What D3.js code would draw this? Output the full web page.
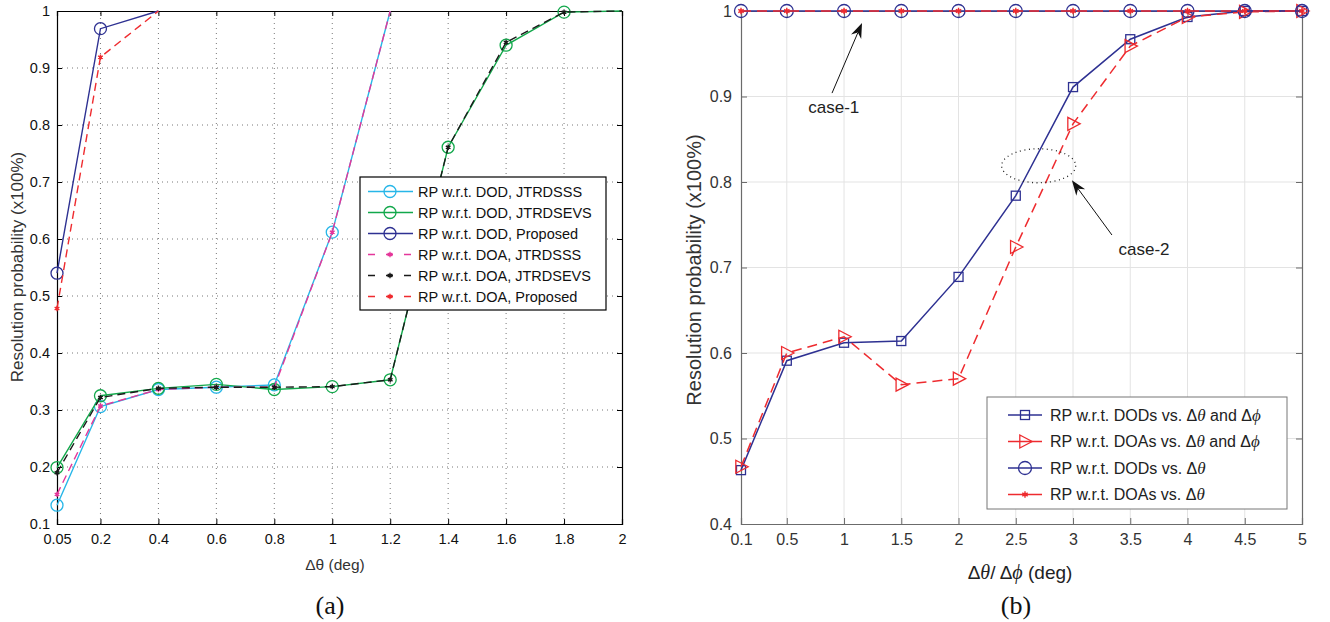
<!DOCTYPE html>
<html>
<head>
<meta charset="utf-8">
<script src="https://cdnjs.cloudflare.com/ajax/libs/d3/7.8.5/d3.min.js"></script>
<style>
	body { margin: 0; background: #fff; }
	text { font-family: "Liberation Sans", Arial, sans-serif; }
	.serif { font-family: "Liberation Serif", "Times New Roman", serif; }
</style>
</head>
<body>
<svg width="1330" height="622"></svg>
<script>

/*
	data, panel (a)
*/
var thetaA = [0.05, 0.2, 0.4, 0.6, 0.8, 1, 1.2, 1.4, 1.6, 1.8, 2];
var dodSSS = [0.133, 0.306, 0.336, 0.340, 0.344, 0.612, 1];
var dodSEVS = [0.199, 0.325, 0.338, 0.345, 0.336, 0.341, 0.353, 0.761, 0.940, 0.998, 1];
var dodProp = [0.540, 0.969, 1];
var doaSSS = [0.152, 0.307, 0.336, 0.340, 0.340, 0.612, 1];
var doaSEVS = [0.190, 0.322, 0.338, 0.340, 0.340, 0.341, 0.353, 0.761, 0.945, 0.998, 1];
var doaProp = [0.478, 0.919, 1];
var ticksXA = [0.05, 0.2, 0.4, 0.6, 0.8, 1, 1.2, 1.4, 1.6, 1.8, 2];
var ticksYA = [0.1, 0.2, 0.3, 0.4, 0.5, 0.6, 0.7, 0.8, 0.9, 1];
var namesA = ['RP w.r.t. DOD, JTRDSSS', 'RP w.r.t. DOD, JTRDSEVS', 'RP w.r.t. DOD, Proposed',
	'RP w.r.t. DOA, JTRDSSS', 'RP w.r.t. DOA, JTRDSEVS', 'RP w.r.t. DOA, Proposed'];

/*
	data, panel (b)
*/
var thetaB = [0.1, 0.5, 1, 1.5, 2, 2.5, 3, 3.5, 4, 4.5, 5];
var dodBoth = [0.463, 0.591, 0.612, 0.614, 0.689, 0.784, 0.911, 0.967, 0.993, 1, 1];
var doaBoth = [0.467, 0.600, 0.619, 0.563, 0.570, 0.724, 0.868, 0.959, 0.993, 0.999, 1];
var dodTheta = [1, 1, 1, 1, 1, 1, 1, 1, 1, 1, 1];
var doaTheta = [1, 1, 1, 1, 1, 1, 1, 1, 1, 1, 1];
var ticksXB = [0.1, 0.5, 1, 1.5, 2, 2.5, 3, 3.5, 4, 4.5, 5];
var ticksYB = [0.4, 0.5, 0.6, 0.7, 0.8, 0.9, 1];


var svg = d3.select('svg');


function marker(g, type, x, y, color, size) {
	if (type === 'circle') {
		g.append('circle').attr('cx', x).attr('cy', y).attr('r', size)
			.style('fill', 'none').style('stroke', color).style('stroke-width', 1.3);
	} else if (type === 'square') {
		g.append('rect').attr('x', x - size).attr('y', y - size)
			.attr('width', size * 2).attr('height', size * 2)
			.style('fill', 'none').style('stroke', color).style('stroke-width', 1.3);
	} else if (type === 'tri') {
		g.append('path').attr('d', 'M' + (x - size * 0.8) + ',' + (y - size) + 'L' + (x + size * 1.1) + ',' + y +
			'L' + (x - size * 0.8) + ',' + (y + size) + 'Z')
			.style('fill', 'none').style('stroke', color).style('stroke-width', 1.3);
	} else if (type === 'star') {
		g.append('path').attr('transform', 'translate(' + x + ',' + y + ')')
			.attr('d', d3.symbol(d3.symbolAsterisk, size * size * 3)())
			.style('fill', 'none').style('stroke', color).style('stroke-width', 1.4);
		g.append('circle').attr('cx', x).attr('cy', y).attr('r', size * 0.55).style('fill', color);
	}
}


/*
	Panel (a)
*/
var xA = d3.scaleLinear().domain([0.05, 2]).range([57, 622]);
var yA = d3.scaleLinear().domain([0.1, 1]).range([524, 11]);
var pa = svg.append('g');

pa.selectAll('.gx').data(ticksXA.slice(1, -1)).enter().append('line')
	.attr('x1', d => xA(d)).attr('x2', d => xA(d)).attr('y1', yA(0.1)).attr('y2', yA(1))
	.style('stroke', '#555').style('stroke-width', 0.8).style('stroke-dasharray', '1,4');
pa.selectAll('.gy').data(ticksYA.slice(1, -1)).enter().append('line')
	.attr('x1', xA(0.05)).attr('x2', xA(2)).attr('y1', d => yA(d)).attr('y2', d => yA(d))
	.style('stroke', '#555').style('stroke-width', 0.8).style('stroke-dasharray', '1,4');

var axA = pa.append('g');
axA.append('g').attr('transform', 'translate(0,' + yA(0.1) + ')')
	.call(d3.axisBottom(xA).tickValues(ticksXA).tickSize(-5).tickPadding(10).tickFormat(d3.format('')));
axA.append('g').attr('transform', 'translate(0,' + yA(1) + ')')
	.call(d3.axisTop(xA).tickValues(ticksXA).tickSize(-5).tickFormat(''));
axA.append('g').attr('transform', 'translate(' + xA(0.05) + ',0)')
	.call(d3.axisLeft(yA).tickValues(ticksYA).tickSize(-5).tickPadding(7).tickFormat(d3.format('')));
axA.append('g').attr('transform', 'translate(' + xA(2) + ',0)')
	.call(d3.axisRight(yA).tickValues(ticksYA).tickSize(-5).tickFormat(''));
axA.selectAll('.domain').style('stroke', '#000').style('stroke-width', 1.2);
axA.selectAll('.tick line').style('stroke', '#000');
axA.selectAll('.tick text').style('fill', '#111').style('font-size', '14.5px')
	.style('font-family', '"Liberation Sans", Arial, sans-serif');

var seriesA = [
	{ v: dodSSS, c: '#27b6e8', dash: null, m: 'circle' },
	{ v: dodSEVS, c: '#12a84b', dash: null, m: 'circle' },
	{ v: dodProp, c: '#2e3192', dash: null, m: 'circle' },
	{ v: doaSSS, c: '#e4379a', dash: '8,5', m: 'star' },
	{ v: doaSEVS, c: '#1a1a1a', dash: '8,5', m: 'star' },
	{ v: doaProp, c: '#ef2b2f', dash: '8,5', m: 'star' }
];

var lineA = d3.line().x((d, i) => xA(thetaA[i])).y(d => yA(d));

seriesA.forEach(function (s) {
	var g = pa.append('g');
	g.append('path').attr('d', lineA(s.v)).style('fill', 'none').style('stroke', s.c)
		.style('stroke-width', 1.4).style('stroke-dasharray', s.dash);
	s.v.forEach(function (v, i) {
		if (v < 1) marker(g, s.m, xA(thetaA[i]), yA(v), s.c, s.m === 'circle' ? 6 : 2.6);
	});
});

// legend (a)
var legA = pa.append('g').attr('transform', 'translate(360,177)');
legA.append('rect').attr('width', 246).attr('height', 133).style('fill', '#fff').style('stroke', '#000').style('stroke-width', 1.2);
seriesA.forEach(function (s, i) {
	var ly = 14.5 + i * 21;
	legA.append('line').attr('x1', 8).attr('x2', 53).attr('y1', ly).attr('y2', ly)
		.style('stroke', s.c).style('stroke-width', 1.4).style('stroke-dasharray', s.dash ? '7,11' : null);
	marker(legA, s.m, 30, ly, s.c, s.m === 'circle' ? 6 : 2.6);
	legA.append('text').attr('x', 58).attr('y', ly + 5.5).style('font-size', '14.5px').style('fill', '#111').text(namesA[i]);
});

pa.append('text').attr('x', 335).attr('y', 570).attr('text-anchor', 'middle')
	.style('font-size', '15.5px').style('fill', '#333').text('Δθ (deg)');
pa.append('text').attr('transform', 'translate(23,267) rotate(-90)').attr('text-anchor', 'middle')
	.style('font-size', '17px').style('fill', '#333').text('Resolution probability (x100%)');
pa.append('text').classed('serif', true).attr('x', 330).attr('y', 614).attr('text-anchor', 'middle')
	.style('font-size', '26px').style('fill', '#111').text('(a)');


/*
	Panel (b)
*/
var xB = d3.scaleLinear().domain([0.1, 5]).range([741, 1302]);
var yB = d3.scaleLinear().domain([0.4, 1]).range([524, 11]);
var pb = svg.append('g');

pb.selectAll('.gx').data(ticksXB.slice(1, -1)).enter().append('line')
	.attr('x1', d => xB(d)).attr('x2', d => xB(d)).attr('y1', yB(0.4)).attr('y2', yB(1))
	.style('stroke', '#e3e3e3').style('stroke-width', 1);
pb.selectAll('.gy').data(ticksYB.slice(1, -1)).enter().append('line')
	.attr('x1', xB(0.1)).attr('x2', xB(5)).attr('y1', d => yB(d)).attr('y2', d => yB(d))
	.style('stroke', '#e3e3e3').style('stroke-width', 1);

var axB = pb.append('g');
axB.append('g').attr('transform', 'translate(0,' + yB(0.4) + ')')
	.call(d3.axisBottom(xB).tickValues(ticksXB).tickSize(-6).tickPadding(10).tickFormat(d3.format('')));
axB.append('g').attr('transform', 'translate(0,' + yB(1) + ')')
	.call(d3.axisTop(xB).tickValues(ticksXB).tickSize(-6).tickFormat(''));
axB.append('g').attr('transform', 'translate(' + xB(0.1) + ',0)')
	.call(d3.axisLeft(yB).tickValues(ticksYB).tickSize(-6).tickPadding(9).tickFormat(d3.format('')));
axB.append('g').attr('transform', 'translate(' + xB(5) + ',0)')
	.call(d3.axisRight(yB).tickValues(ticksYB).tickSize(-6).tickFormat(''));
axB.selectAll('.domain').style('stroke', '#6b6b6b').style('stroke-width', 1.2);
axB.selectAll('.tick line').style('stroke', '#6b6b6b');
axB.selectAll('.tick text').style('fill', '#333').style('font-size', '16px')
	.style('font-family', '"Liberation Sans", Arial, sans-serif');

var seriesB = [
	{ v: dodBoth, c: '#2e3192', dash: null, m: 'square', r: 4.5 },
	{ v: doaBoth, c: '#ee2b2f', dash: '10,6', m: 'tri', r: 6.5 },
	{ v: dodTheta, c: '#2e3192', dash: null, m: 'circle', r: 6.5 },
	{ v: doaTheta, c: '#ee2b2f', dash: '10,6', m: 'star', r: 3 }
];

var lineB = d3.line().x((d, i) => xB(thetaB[i])).y(d => yB(d));

seriesB.forEach(function (s) {
	var g = pb.append('g');
	g.append('path').attr('d', lineB(s.v)).style('fill', 'none').style('stroke', s.c)
		.style('stroke-width', 1.5).style('stroke-dasharray', s.dash);
	s.v.forEach(function (v, i) {
		marker(g, s.m, xB(thetaB[i]), yB(v), s.c, s.r);
	});
});

// annotations
function arrow(x1, y1, x2, y2) {
	var a = Math.atan2(y2 - y1, x2 - x1), L = 15, W = 5.5;
	var bx = x2 - L * Math.cos(a), by = y2 - L * Math.sin(a);
	var nx = x2 - L * 0.7 * Math.cos(a), ny = y2 - L * 0.7 * Math.sin(a);
	pb.append('line').attr('x1', x1).attr('y1', y1).attr('x2', nx).attr('y2', ny)
		.style('stroke', '#111').style('stroke-width', 1);
	pb.append('path').attr('d', 'M' + x2 + ',' + y2 +
		'L' + (bx - W * Math.sin(a)) + ',' + (by + W * Math.cos(a)) +
		'L' + nx + ',' + ny +
		'L' + (bx + W * Math.sin(a)) + ',' + (by - W * Math.cos(a)) + 'Z').style('fill', '#111');
}
arrow(xB(0.895), yB(0.904), xB(1.157), yB(0.986));
arrow(xB(3.34), yB(0.738), xB(2.99), yB(0.802));
pb.append('ellipse').attr('cx', xB(2.70)).attr('cy', yB(0.819)).attr('rx', 37).attr('ry', 17)
	.style('fill', 'none').style('stroke', '#222').style('stroke-width', 1.3).style('stroke-dasharray', '1,3.5');
pb.append('text').attr('x', xB(0.91)).attr('y', yB(0.888) + 6).attr('text-anchor', 'middle')
	.style('font-size', '17px').style('fill', '#222').text('case-1');
pb.append('text').attr('x', xB(3.62)).attr('y', yB(0.722) + 6).attr('text-anchor', 'middle')
	.style('font-size', '17px').style('fill', '#222').text('case-2');

// legend (b)
var legB = pb.append('g').attr('transform', 'translate(987,397)');
legB.append('rect').attr('width', 300).attr('height', 112).style('fill', '#fff').style('stroke', '#777').style('stroke-width', 1);
var labB = [
	['RP w.r.t. DODs vs. ', true],
	['RP w.r.t. DOAs vs. ', true],
	['RP w.r.t. DODs vs. ', false],
	['RP w.r.t. DOAs vs. ', false]
];
seriesB.forEach(function (s, i) {
	var ly = 18 + i * 26.5;
	legB.append('line').attr('x1', 21).attr('x2', 55).attr('y1', ly).attr('y2', ly)
		.style('stroke', s.c).style('stroke-width', 1.5);
	marker(legB, s.m, 38, ly, s.c, s.r);
	var t = legB.append('text').attr('x', 63).attr('y', ly + 5.5).style('font-size', '16px').style('fill', '#222');
	t.append('tspan').text(labB[i][0] + 'Δ');
	t.append('tspan').classed('serif', true).style('font-style', 'italic').style('font-size', '17px').text('θ');
	if (labB[i][1]) {
		t.append('tspan').text(' and Δ');
		t.append('tspan').classed('serif', true).style('font-style', 'italic').style('font-size', '17px').text('ϕ');
	}
});

var xl = pb.append('text').attr('x', 1020).attr('y', 579).attr('text-anchor', 'middle')
	.style('font-size', '19px').style('fill', '#222');
xl.append('tspan').text('Δ');
xl.append('tspan').classed('serif', true).style('font-style', 'italic').style('font-size', '20px').text('θ');
xl.append('tspan').text('/ Δ');
xl.append('tspan').classed('serif', true).style('font-style', 'italic').style('font-size', '20px').text('ϕ');
xl.append('tspan').text(' (deg)');

pb.append('text').attr('transform', 'translate(701,270) rotate(-90)').attr('text-anchor', 'middle')
	.style('font-size', '20px').style('fill', '#333').text('Resolution probability (x100%)');
pb.append('text').classed('serif', true).attr('x', 1016).attr('y', 614).attr('text-anchor', 'middle')
	.style('font-size', '26px').style('fill', '#111').text('(b)');

</script>
</body>
</html>
